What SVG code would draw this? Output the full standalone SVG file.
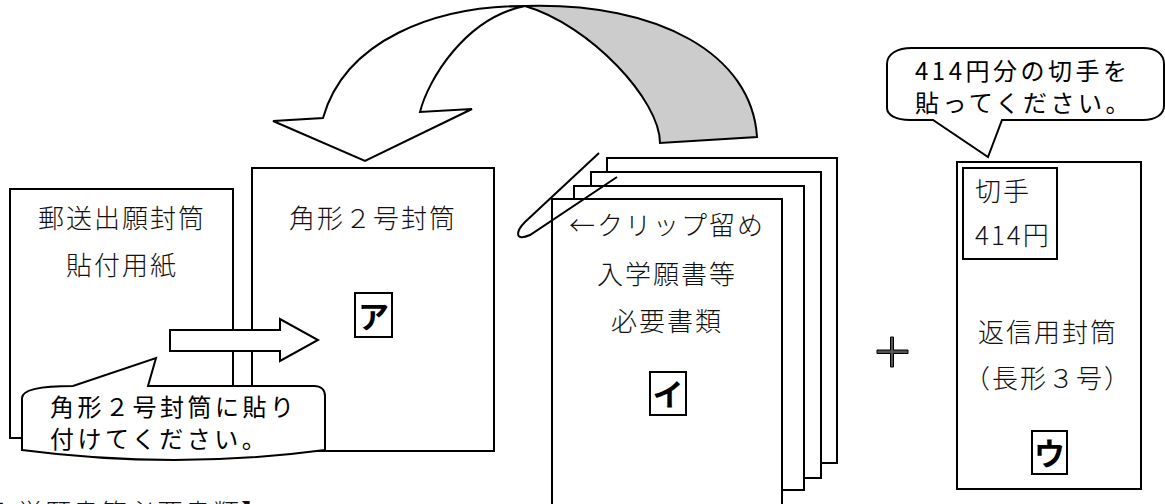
<svg xmlns="http://www.w3.org/2000/svg" width="1165" height="504" viewBox="0 0 1165 504">
<defs>
<style>
.box{fill:#fff;stroke:#000;stroke-width:2}
.ln{fill:none;stroke:#000;stroke-width:2}
.min{font-family:"Noto Sans CJK JP","Noto Sans",sans-serif;font-size:26px;letter-spacing:2px;fill:#111;font-weight:300}
.goth{font-family:"Noto Sans CJK JP","Noto Sans",sans-serif;font-size:24px;letter-spacing:3.5px;fill:#000}
.lab{font-family:"Noto Sans CJK JP","Noto Sans",sans-serif;font-size:31px;font-weight:bold;fill:#000;text-anchor:middle}
.mid{text-anchor:middle}
</style>
</defs>
<rect width="1165" height="504" fill="#fff"/>

<g id="node-haritsuke">
<rect class="box" x="10" y="189" width="223" height="249"/>
<text class="min mid" x="122" y="228">郵送出願封筒</text>
<text class="min mid" x="122" y="275">貼付用紙</text>
</g>

<g id="node-kaku2">
<rect class="box" x="252" y="168" width="242" height="283"/>
<text class="min mid" x="373" y="228">角形２号封筒</text>
<rect class="box" x="355" y="293" width="37" height="44"/>
<text class="lab" x="373.5" y="328">ア</text>
</g>

<g id="connectors">
<path id="arrow-paste" class="box" d="M170,330 L280,330 L280,319 L318,340 L280,361 L280,351 L170,351 Z"/>
<path id="arrow-curve-front" class="box" d="M323,118 C345,40 435,6 525,6 C465,18 428,80 420,112 L472,109 L365,161 L273,121 Z"/>
<path id="arrow-curve-back" d="M525,6 C660,2 752,55 757,137 L660,143 C660,100 590,25 525,6 Z" fill="#cccccc" stroke="#000" stroke-width="2"/>
</g>

<g id="callout-paste">
<path class="box" d="M22,398 C22,390 40,386 73,386 L156,358 L148,386 L314,386 C321,386 325,390 325,396 L325,450 Q175,470 22,450 Z"/>
<text class="goth" x="50" y="416">角形２号封筒に貼り</text>
<text class="goth" x="50" y="448">付けてください。</text>
</g>

<g id="node-papers">
<rect class="box" x="607" y="158" width="230" height="305"/>
<rect class="box" x="591" y="172" width="230" height="306"/>
<rect class="box" x="574" y="186" width="230" height="304"/>
<rect class="box" x="552" y="199" width="230" height="320"/>
<text class="min mid" x="667" y="235">←クリップ留め</text>
<text class="min mid" x="667" y="284">入学願書等</text>
<text class="min mid" x="667" y="331">必要書類</text>
<rect class="box" x="650" y="372" width="36" height="43"/>
<text class="lab" x="668" y="406">イ</text>
<path id="clip" class="ln" d="M599,153 L525,222 C516,231 514,242 530,235 L617,177"/>
</g>

<g id="plus">
<path d="M877,350 L890.5,350 L890.5,337 L893.5,337 L893.5,350 L908,350 L908,353.5 L893.5,353.5 L893.5,367 L890.5,367 L890.5,353.5 L877,353.5 Z" fill="#555" stroke="#000" stroke-width="1"/>
</g>

<g id="node-henshin">
<rect class="box" x="957" y="162" width="184" height="327"/>
<rect class="box" x="963" y="168" width="94" height="91"/>
<text class="min" x="975" y="201">切手</text>
<text class="min" x="975" y="245">414円</text>
<text class="min mid" x="1048" y="342">返信用封筒</text>
<text class="min mid" x="1048" y="388">（長形３号）</text>
<rect class="box" x="1032" y="431" width="35" height="43"/>
<text class="lab" x="1049.5" y="465">ウ</text>
</g>

<g id="callout-stamp">
<path class="box" d="M887,64 C887,54 897,48 912,48 L1143,48 C1156,48 1164,54 1164,64 L1164,106 C1164,114 1156,120 1143,120 L1002,120 L988,157 L933,120 L910,120 C896,120 887,115 887,108 Z"/>
<text class="goth" x="915" y="80" font-size="22" letter-spacing="4.5">414円分の切手を</text>
<text class="goth" x="915" y="112" font-size="22" letter-spacing="4.5">貼ってください。</text>
</g>

<text id="heading" class="min" x="-39" y="523" font-size="24" letter-spacing="2.25">【入学願書等必要書類】</text>
</svg>
